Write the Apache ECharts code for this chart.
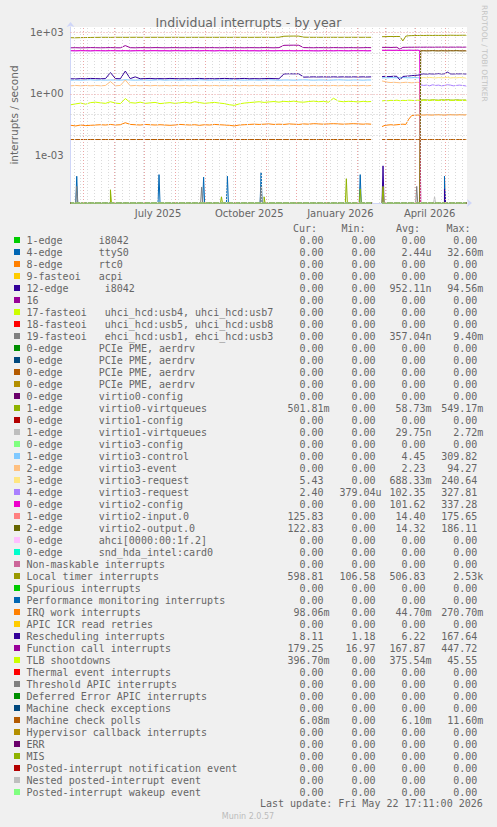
<!DOCTYPE html>
<html><head><meta charset="utf-8">
<script src="https://cdn.jsdelivr.net/npm/echarts@6/dist/echarts.min.js"></script>
<style>html,body{margin:0;padding:0;background:#F0F0F0;}#c{width:497px;height:827px;}</style>
</head><body><div id="c"></div>
<script>
// ---------------- DATA ----------------
const datesA = ['2025-04-18','2025-04-23','2025-04-28','2025-05-03','2025-05-08','2025-05-13','2025-05-18','2025-05-23','2025-05-28','2025-06-02','2025-06-07','2025-06-12','2025-06-17','2025-06-22','2025-06-27','2025-07-02','2025-07-07','2025-07-12','2025-07-17','2025-07-22','2025-07-27','2025-08-01','2025-08-06','2025-08-11','2025-08-16','2025-08-21','2025-08-26','2025-08-31','2025-09-05','2025-09-10','2025-09-15','2025-09-20','2025-09-25','2025-09-30','2025-10-05','2025-10-10','2025-10-15','2025-10-20','2025-10-25','2025-10-30','2025-11-04','2025-11-09','2025-11-14','2025-11-19','2025-11-24','2025-11-29','2025-12-04','2025-12-09','2025-12-14','2025-12-19','2025-12-24','2025-12-29','2026-01-03','2026-01-08','2026-01-13','2026-01-18','2026-01-23','2026-01-28','2026-02-02','2026-02-07','2026-02-11','2026-02-15'];
const gapDate = '2026-02-20';
const datesB = ['2026-02-26','2026-03-01','2026-03-04','2026-03-07','2026-03-10','2026-03-13','2026-03-16','2026-03-19','2026-03-22','2026-03-25','2026-03-28','2026-03-31','2026-04-03','2026-04-05','2026-04-06','2026-04-09','2026-04-12','2026-04-15','2026-04-18','2026-04-21','2026-04-24','2026-04-27','2026-04-30','2026-05-03','2026-05-06','2026-05-09','2026-05-12','2026-05-15','2026-05-18','2026-05-21','2026-05-22'];

const locA = [545,540,550,555,560,565,568,570,565,572,570,568,570,572,570,568,570,571,570,569,570,572,570,568,570,571,570,572,569,570,571,570,569,572,570,570,568,570,571,572,570,569,575,640,650,655,650,580,572,570,571,569,570,572,570,571,570,572,570,571,570,572];
const locB = [610,615,620,625,620,625,620,380,650,680,690,695,700,700,705,700,705,710,700,710,705,710,700,710,720,715,710,715,720,720,700];
const calA = [176,178,175,177,180,178,176,178,180,177,176,225,178,176,179,178,177,180,178,176,178,179,177,178,176,180,178,177,179,178,176,178,180,177,178,176,179,178,177,180,178,176,179,232,235,236,234,180,178,177,179,178,176,180,178,177,179,178,176,178,180,178];
const calB = [185,184,186,183,185,187,150,185,186,188,187,189,188,190,189,188,190,189,188,190,189,191,190,188,190,189,191,190,189,190,189];
const v2cfgA = [127,126,128,127,125,128,127,126,128,127,126,128,125,127,128,126,127,128,126,127,125,128,127,126,128,127,126,128,127,125,128,127,126,128,127,128,126,127,125,128,127,126,128,127,128,126,127,128,127,126,125,128,127,126,128,127,126,128,127,128,126,127];
const v2cfgB = [133,132,134,133,132,134,130,133,132,134,133,132,134,130,0,0,0,0,0,0,0,0,0,0,0,0,0,0,0,0,0];
const v3req4A = [127,126,128,127,125,128,127,126,128,127,126,128,125,127,128,126,127,128,126,127,125,128,127,126,128,127,126,128,127,125,128,127,126,128,127,128,126,127,125,128,127,126,128,127,128,126,127,128,127,126,125,128,127,126,128,127,126,128,127,128,126,127];
const v3req4B = [133,132,134,133,132,134,130,133,132,134,133,132,134,130,2.8,2.6,2.7,2.5,2.8,2.6,2.7,2.5,2.6,2.8,2.7,2.5,2.6,2.7,2.6,2.5,2.4];
const v3req3B = [0,0,0,0,0,0,0,0,0,0,0,0,0,0,6.0,6.3,6.1,6.4,6.2,6.0,6.3,6.1,6.2,6.4,6.0,6.2,6.1,6.3,6.2,6.0,5.6];
const resA = [5.5,5.4,5.6,5.5,5.7,5.6,5.5,5.6,11,5.6,5.5,13,5.6,6.8,5.5,5.6,5.7,5.5,5.6,5.5,5.7,5.6,5.5,5.6,5.5,5.6,5.7,5.5,5.6,5.5,5.6,5.7,5.6,5.5,5.6,5.7,5.5,5.6,5.5,5.6,5.7,5.6,5.5,9.4,9.6,9.5,9.6,6.6,6.7,6.8,6.7,6.8,6.7,6.8,6.7,6.8,6.7,6.8,6.7,6.8,6.7,6.8];
const resB = [7.0,7.2,7.0,7.1,7.3,7.2,4.8,7.1,7.3,7.5,7.8,8.0,8.2,8.5,9.2,9.5,9.3,9.6,9.4,9.5,9.8,9.4,9.6,11.5,9.5,9.4,9.6,9.5,9.7,9.4,9.3];
const v3ctlA = [4.7,4.8,4.7,4.8,4.9,4.7,4.8,4.7,4.8,4.8,4.7,4.9,4.8,4.7,4.8,4.8,4.7,4.8,4.9,4.7,4.8,4.8,4.7,4.8,4.8,4.7,4.9,4.8,4.7,4.8,4.8,4.7,4.8,4.9,4.8,4.7,4.8,4.8,4.7,4.8,4.9,4.8,4.7,4.8,4.8,4.7,4.8,4.9,4.8,4.7,4.8,4.8,4.7,4.8,4.9,4.8,4.7,4.8,4.8,4.7,4.8,4.8];
const v3ctlB = [6.0,6.2,6.1,6.3,6.2,6.1,6.2,6.3,6.2,6.1,6.2,6.3,6.2,6.1,0,0,0,0,0,0,0,0,0,0,0,0,0,0,0,0,0];
const v3evtA = [2.5,2.6,2.5,2.6,2.5,2.6,2.5,2.6,4.0,2.5,2.6,4.8,2.5,2.6,2.5,2.6,2.5,2.6,2.5,2.6,2.5,2.6,2.5,2.6,2.5,2.6,2.5,2.6,2.5,2.6,2.5,2.6,2.5,2.6,2.5,2.6,2.5,2.6,2.5,2.6,2.5,2.6,2.5,2.6,2.5,2.6,2.5,2.6,2.5,2.6,2.5,2.6,2.5,2.6,2.5,2.6,2.5,2.6,2.5,2.6,2.5,2.6];
const v3evtB = [4.3,4.0,3.7,3.6,3.7,3.6,3.5,3.6,3.7,3.6,3.5,3.6,3.7,3.6,0,0,0,0,0,0,0,0,0,0,0,0,0,0,0,0,0];
const v2inB = [0,0,0,0,0,0,0,0,0,0,0,0,0,0,128,129,127,128,130,128,127,129,128,127,129,128,130,128,127,128,126];
const v2outB = [0,0,0,0,0,0,0,0,0,0,0,0,0,0,125,126,124,125,127,125,124,126,125,124,126,125,127,125,124,125,123];
const v0vqB = [0,0,0,0,0,0,0,0,0,0,0,0,0,0,0.50,0.52,0.51,0.50,0.52,0.51,0.50,0.52,0.51,0.53,0.51,0.50,0.52,0.51,0.50,0.51,0.50];
const tlbA = [0.30,0.33,0.36,0.32,0.38,0.40,0.37,0.35,0.42,0.36,0.34,0.60,0.38,0.36,0.40,0.35,0.37,0.39,0.34,0.36,0.38,0.35,0.37,0.40,0.36,0.42,0.38,0.35,0.37,0.39,0.36,0.34,0.30,0.28,0.33,0.36,0.38,0.40,0.42,0.39,0.41,0.43,0.40,0.44,0.42,0.45,0.41,0.40,0.43,0.45,0.42,0.44,0.40,0.62,0.45,0.42,0.44,0.43,0.41,0.44,0.42,0.43];
const tlbB = [0.46,0.48,0.47,0.49,0.48,0.50,0.47,0.49,0.48,0.50,0.49,0.48,0.50,0.49,0.48,0.50,0.49,0.48,0.51,0.49,0.48,0.50,0.49,0.51,0.48,0.50,0.49,0.48,0.50,0.49,0.47];
const iwiA = [0.030,0.028,0.031,0.029,0.030,0.031,0.032,0.031,0.033,0.031,0.032,0.040,0.033,0.032,0.031,0.033,0.032,0.031,0.032,0.031,0.030,0.031,0.033,0.032,0.031,0.032,0.030,0.032,0.031,0.033,0.032,0.031,0.030,0.028,0.031,0.032,0.033,0.034,0.033,0.034,0.035,0.033,0.034,0.033,0.035,0.034,0.033,0.035,0.034,0.036,0.035,0.034,0.035,0.036,0.035,0.034,0.035,0.036,0.035,0.034,0.035,0.034];
const iwiB = [0.026,0.030,0.031,0.032,0.031,0.032,0.033,0.034,0.033,0.060,0.090,0.092,0.095,0.094,0.096,0.095,0.097,0.096,0.095,0.097,0.098,0.096,0.095,0.097,0.098,0.097,0.096,0.098,0.097,0.096,0.098];
const mcpLevel = 0.0061;

const ttySpikes = [['2025-04-24',1e-4],['2025-07-16',1.2e-4],['2025-08-30',9e-5],['2025-09-23',1e-4],['2025-10-27',1.5e-4],['2026-02-04',1.2e-4],['2026-04-30',1e-4]];
const irq19Spikes = [['2025-04-24',3.2e-5],['2025-08-28',3e-5],['2025-10-27',3.2e-5],['2026-04-02',3.2e-5]];
const v0vqSpikes = [['2025-05-28',2.2e-5],['2025-09-17',1e-5],['2025-10-30',1e-5],['2026-01-21',7.6e-5],['2026-02-04',2.4e-5],['2026-02-27',3.2e-5]];
const irq12Spikes = [['2026-02-27',3.2e-4],['2026-04-30',2.4e-5]];
const v1vqSpikes = [['2026-04-20',1e-5]];

const irqNames = ['1-edge','4-edge','8-edge','9-fasteoi','12-edge','16','17-fasteoi','18-fasteoi','19-fasteoi','0-edge','0-edge','0-edge','0-edge','0-edge','1-edge','0-edge','1-edge','0-edge','1-edge','2-edge','3-edge','4-edge','0-edge','1-edge','2-edge','0-edge','0-edge','Non-maskable interrupts','Local timer interrupts','Spurious interrupts','Performance monitoring interrupts','IRQ work interrupts','APIC ICR read retries','Rescheduling interrupts','Function call interrupts','TLB shootdowns','Thermal event interrupts','Threshold APIC interrupts','Deferred Error APIC interrupts','Machine check exceptions','Machine check polls','Hypervisor callback interrupts','ERR','MIS','Posted-interrupt notification event','Nested posted-interrupt event','Posted-interrupt wakeup event'];
const irqDevices = ['i8042','ttyS0','rtc0','acpi','i8042','','uhci_hcd:usb4, uhci_hcd:usb7','uhci_hcd:usb5, uhci_hcd:usb8','ehci_hcd:usb1, ehci_hcd:usb3','PCIe PME, aerdrv','PCIe PME, aerdrv','PCIe PME, aerdrv','PCIe PME, aerdrv','virtio0-config','virtio0-virtqueues','virtio1-config','virtio1-virtqueues','virtio3-config','virtio3-control','virtio3-event','virtio3-request','virtio3-request','virtio2-config','virtio2-input.0','virtio2-output.0','ahci[0000:00:1f.2]','snd_hda_intel:card0','','','','','','','','','','','','','','','','','','','',''];
const curVals = ['0.00','0.00','0.00','0.00','0.00','0.00','0.00','0.00','0.00','0.00','0.00','0.00','0.00','0.00','501.81m','0.00','0.00','0.00','0.00','0.00','5.43','2.40','0.00','125.83','122.83','0.00','0.00','0.00','598.81','0.00','0.00','98.06m','0.00','8.11','179.25','396.70m','0.00','0.00','0.00','0.00','6.08m','0.00','0.00','0.00','0.00','0.00','0.00'];
const minVals = ['0.00','0.00','0.00','0.00','0.00','0.00','0.00','0.00','0.00','0.00','0.00','0.00','0.00','0.00','0.00','0.00','0.00','0.00','0.00','0.00','0.00','379.04u','0.00','0.00','0.00','0.00','0.00','0.00','106.58','0.00','0.00','0.00','0.00','1.18','16.97','0.00','0.00','0.00','0.00','0.00','0.00','0.00','0.00','0.00','0.00','0.00','0.00'];
const avgVals = ['0.00','2.44u','0.00','0.00','952.11n','0.00','0.00','0.00','357.04n','0.00','0.00','0.00','0.00','0.00','58.73m','0.00','29.75n','0.00','4.45','2.23','688.33m','102.35','101.62','14.40','14.32','0.00','0.00','0.00','506.83','0.00','0.00','44.70m','0.00','6.22','167.87','375.54m','0.00','0.00','0.00','0.00','6.10m','0.00','0.00','0.00','0.00','0.00','0.00'];
const maxVals = ['0.00','32.60m','0.00','0.00','94.56m','0.00','0.00','0.00','9.40m','0.00','0.00','0.00','0.00','0.00','549.17m','0.00','2.72m','0.00','309.82','94.27','240.64','327.81','337.28','175.65','186.11','0.00','0.00','0.00','2.53k','0.00','0.00','270.70m','0.00','167.64','447.72','45.55','0.00','0.00','0.00','0.00','11.60m','0.00','0.00','0.00','0.00','0.00','0.00'];

// per-series readings: A = before the data gap, B = after; a number means a flat line
const seriesValues = [
  {a:0,b:0},{a:0,b:0,spikes:ttySpikes},{a:0,b:0},{a:0,b:0},{a:0,b:0,spikes:irq12Spikes},{a:0,b:0},{a:0,b:0},{a:0,b:0},{a:0,b:0,spikes:irq19Spikes},
  {a:0,b:0},{a:0,b:0},{a:0,b:0},{a:0,b:0},{a:0,b:0},{a:0,b:v0vqB,spikes:v0vqSpikes},{a:0,b:0},{a:0,b:0,spikes:v1vqSpikes},{a:0,b:0},
  {a:v3ctlA,b:v3ctlB},{a:v3evtA,b:v3evtB},{a:0,b:v3req3B},{a:v3req4A,b:v3req4B},{a:v2cfgA,b:v2cfgB},{a:0,b:v2inB},{a:0,b:v2outB},
  {a:0,b:0},{a:0,b:0},{a:0,b:0},{a:locA,b:locB},{a:0,b:0},{a:0,b:0},{a:iwiA,b:iwiB},{a:0,b:0},{a:resA,b:resB},{a:calA,b:calB},{a:tlbA,b:tlbB},
  {a:0,b:0},{a:0,b:0},{a:0,b:0},{a:0,b:0},{a:mcpLevel,b:mcpLevel},{a:0,b:0},{a:0,b:0},{a:0,b:0},{a:0,b:0},{a:0,b:0},{a:0,b:0}
];
const xLabelDates = ['2025-07-15','2025-10-15','2026-01-15','2026-04-15'];
const monthStarts = ['2025-05-01','2025-06-01','2025-07-01','2025-08-01','2025-09-01','2025-10-01','2025-11-01','2025-12-01','2026-01-01','2026-02-01','2026-03-01','2026-04-01','2026-05-01'];
const weekStarts = ['2025-04-21','2025-04-28','2025-05-05','2025-05-12','2025-05-19','2025-05-26','2025-06-02','2025-06-09','2025-06-16','2025-06-23','2025-06-30','2025-07-07','2025-07-14','2025-07-21','2025-07-28','2025-08-04','2025-08-11','2025-08-18','2025-08-25','2025-09-08','2025-09-15','2025-09-22','2025-09-29','2025-10-06','2025-10-13','2025-10-20','2025-10-27','2025-11-03','2025-11-10','2025-11-17','2025-11-24','2025-12-08','2025-12-15','2025-12-22','2025-12-29','2026-01-05','2026-01-12','2026-01-19','2026-01-26','2026-02-02','2026-02-09','2026-02-16','2026-02-23','2026-03-02','2026-03-09','2026-03-16','2026-03-23','2026-03-30','2026-04-06','2026-04-13','2026-04-20','2026-04-27','2026-05-04','2026-05-11','2026-05-18'];
const yDecades = [1e-5,1e-4,1e-3,1e-2,1e-1,1,10,100,1000];
const yLabelValues = [1e-3,1,1e3];

// ---------------- STYLE / BUILD ----------------
const palette = ['#00CC00','#0066B3','#FF8000','#FFCC00','#330099','#990099','#CCFF00','#FF0000','#808080','#008F00','#00487D','#B35A00','#B38F00','#6B006B','#8FB300','#B30000','#BEBEBE','#80FF80','#80C9FF','#FFC080','#FFE680','#AA80FF','#EE00CC','#FF8080','#666600','#FFBFFF','#00FFCC','#CC6699','#999900'];
const MONTHS = ['January','February','March','April','May','June','July','August','September','October','November','December'];
const START = Date.UTC(2025,3,17,17,11);
const END = Date.UTC(2026,4,22,17,11);
const YMIN = Math.pow(10,-5.301), YMAX = Math.pow(10,3.257);
const DAY = 86400000;
const T = s => Date.parse(s + 'T00:00:00Z');
const FONT = 'DejaVu Sans', MONO = 'DejaVu Sans Mono', FC = '#666666';

function buildData(def){
  const pts = [];
  datesA.forEach((d,i)=>pts.push([T(d), Array.isArray(def.a)?def.a[i]:def.a]));
  pts.push([T(gapDate), null]);
  datesB.forEach((d,i)=>pts.push([T(d), Array.isArray(def.b)?def.b[i]:def.b]));
  if (def.spikes) {
    def.spikes.forEach(([d,v])=>{ const t=T(d); pts.push([t-DAY,0],[t,v],[t+DAY,0]); });
    pts.sort((p,q)=>p[0]-q[0]);
  }
  // rrdtool draws zero at the bottom of a logarithmic graph
  return pts.map(p=>[p[0], p[1]===null?null:(p[1]<=0?YMIN:p[1])]);
}

const series = seriesValues.map((def,i)=>({
  type:'line', name: irqNames[i]+(irqDevices[i]?' '+irqDevices[i]:''),
  data: buildData(def), symbol:'none', showSymbol:false, connectNulls:false, clip:false,
  lineStyle:{width:1,color:palette[i%palette.length]}, itemStyle:{color:palette[i%palette.length]},
  animation:false, silent:true, z:3
}));

const GREY='#DADADA', RED='#EBA5A5';
const DASH=[1,2];
const gridLines = [];
weekStarts.forEach(d=>gridLines.push({xAxis:T(d), lineStyle:{color:GREY, type:DASH, width:1}}));
yDecades.forEach(v=>{ if(!yLabelValues.includes(v)) gridLines.push({yAxis:v, lineStyle:{color:'#CCCCCC', type:DASH, width:1}}); });
monthStarts.forEach(d=>gridLines.push({xAxis:T(d), lineStyle:{color:RED, type:DASH, width:1}}));
yLabelValues.forEach(v=>gridLines.push({yAxis:v, lineStyle:{color:RED, type:DASH, width:1}}));
series.unshift({type:'line', data:[[START,1]], symbol:'none', lineStyle:{opacity:0}, z:1, silent:true, animation:false,
  markLine:{silent:true, symbol:'none', animation:false, label:{show:false}, data:gridLines}});

// legend / table graphics
const g = [];
const ROW0 = 240, ROWH = 12, CW = 6.02, TX = 26.5;
const colStart = [287.5,339.5,389.5,441.2];
const mono = '10px "'+MONO+'"';
[['Cur:',293],['Min:',341.5],['Avg:',396],['Max:',446.5]].forEach(([t,x])=>g.push({type:'text', x:x, y:228, style:{text:t, font:mono, fill:FC, verticalAlign:'middle'}}));
irqNames.forEach((nm,i)=>{
  const y = ROW0 + ROWH*i;
  g.push({type:'rect', shape:{x:14,y:y-3,width:6,height:6}, style:{fill:palette[i%palette.length]}});
  g.push({type:'text', x:TX, y:y, style:{text:nm, font:mono, fill:FC, verticalAlign:'middle'}});
  if (irqDevices[i]) {
    const col = /^\d\d-/.test(nm) ? 13 : 12;
    g.push({type:'text', x:TX+col*CW, y:y, style:{text:irqDevices[i], font:mono, fill:FC, verticalAlign:'middle'}});
  }
  [curVals[i],minVals[i],avgVals[i],maxVals[i]].forEach((s,k)=>{
    const m = s.match(/^([0-9.]+)([a-zA-Z]?)$/);
    const xr = colStart[k] + 6*CW;
    g.push({type:'text', x:xr, y:y, style:{text:m[1], font:mono, fill:FC, align:'right', verticalAlign:'middle'}});
    if (m[2]) g.push({type:'text', x:xr, y:y, style:{text:m[2], font:mono, fill:FC, align:'left', verticalAlign:'middle'}});
  });
});
g.push({type:'text', x:260, y:803, style:{text:'Last update: Fri May 22 17:11:00 2026', font:mono, fill:FC, verticalAlign:'middle'}});
g.push({type:'text', x:248, y:816, style:{text:'Munin 2.0.57', font:'8px "'+FONT+'"', fill:'#BBBBBB', align:'center', verticalAlign:'middle'}});
g.push({type:'text', x:484, y:5, rotation:-Math.PI/2, style:{text:'RRDTOOL / TOBI OETIKER', font:'7.5px "'+FONT+'"', fill:'#C4C4C4', align:'left', verticalAlign:'middle'}});

const chart = echarts.init(document.getElementById('c'), null, {renderer:'svg'});
chart.setOption({
  animation:false, backgroundColor:'#F0F0F0',
  title:{text:'Individual interrupts - by year', left:'center', top:11, textStyle:{fontFamily:FONT, fontSize:12.5, fontWeight:'normal', color:FC}},
  grid:{left:67, right:30, top:27, bottom:624, backgroundColor:'#FFFFFF', show:true, borderWidth:0},
  xAxis:{type:'value', min:START, max:END, scale:true,
    axisLine:{show:true, lineStyle:{color:'#CFD6F8', width:1}, symbol:['none','arrow'], symbolSize:[6,5], symbolOffset:[0,5]},
    axisTick:{show:false}, splitLine:{show:false},
    axisLabel:{customValues:xLabelDates.map(T), formatter:v=>{const d=new Date(v);return MONTHS[d.getUTCMonth()]+' '+d.getUTCFullYear();}, color:FC, fontFamily:FONT, fontSize:10, margin:5}},
  yAxis:{type:'log', logBase:10, min:YMIN, max:YMAX,
    name:'interrupts / second', nameLocation:'middle', nameGap:51, nameTextStyle:{fontFamily:FONT, fontSize:10.5, color:FC},
    axisLine:{show:true, lineStyle:{color:'#CFD6F8', width:1}, symbol:['none','arrow'], symbolSize:[6,5], symbolOffset:[0,5]},
    axisTick:{show:false}, splitLine:{show:false}, minorSplitLine:{show:false},
    axisLabel:{customValues:yLabelValues, formatter:v=>{const e=Math.round(Math.log10(v));return '1e'+(e<0?'-':'+')+String(Math.abs(e)).padStart(2,'0');}, color:FC, fontFamily:FONT, fontSize:10, margin:7}},
  graphic:g,
  series:series
});
</script>
</body></html>
